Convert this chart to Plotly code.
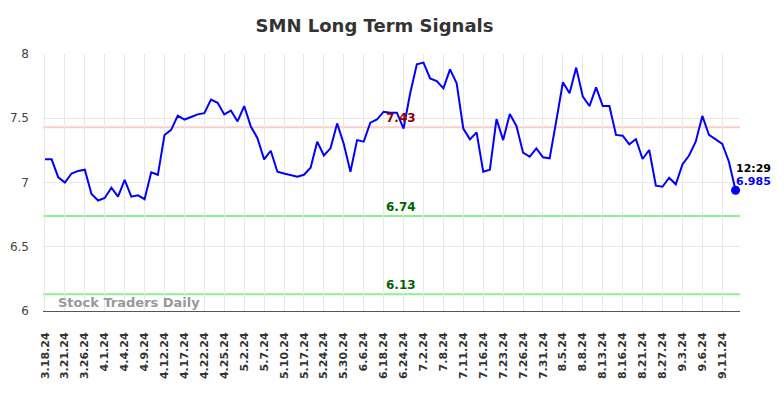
import plotly.graph_objects as go

# ---- data ----
tick_labels = ["3.18.24", "3.21.24", "3.26.24", "4.1.24", "4.4.24", "4.9.24", "4.12.24",
               "4.17.24", "4.22.24", "4.25.24", "5.2.24", "5.7.24", "5.10.24", "5.17.24",
               "5.24.24", "5.30.24", "6.6.24", "6.18.24", "6.24.24", "7.2.24", "7.8.24",
               "7.11.24", "7.16.24", "7.23.24", "7.26.24", "7.31.24", "8.5.24", "8.8.24",
               "8.13.24", "8.16.24", "8.21.24", "8.27.24", "9.3.24", "9.6.24", "9.11.24"]

prices = [7.18, 7.18, 7.04, 7.00, 7.07, 7.09, 7.10, 6.91, 6.86, 6.88,
          6.96, 6.89, 7.02, 6.89, 6.90, 6.87, 7.08, 7.06, 7.37, 7.41,
          7.52, 7.49, 7.51, 7.53, 7.54, 7.645, 7.62, 7.53, 7.56, 7.475,
          7.595, 7.435, 7.345, 7.18, 7.247, 7.084, 7.07, 7.06, 7.045, 7.06,
          7.115, 7.318, 7.21, 7.266, 7.46, 7.30, 7.084, 7.33, 7.318, 7.466,
          7.49, 7.551, 7.543, 7.543, 7.42, 7.694, 7.92, 7.933, 7.81, 7.79,
          7.733, 7.88, 7.772, 7.42, 7.336, 7.39, 7.084, 7.10, 7.494, 7.33,
          7.533, 7.44, 7.232, 7.20, 7.266, 7.196, 7.188, 7.48, 7.78, 7.694,
          7.894, 7.668, 7.595, 7.74, 7.595, 7.595, 7.37, 7.364, 7.297, 7.338,
          7.183, 7.253, 6.975, 6.967, 7.037, 6.986, 7.14, 7.21, 7.318, 7.518,
          7.37, 7.336, 7.30, 7.162, 6.94]

points_per_tick = 3
resistance = 7.43
support_levels = [6.74, 6.13]
last_time = "12:29"
last_label = "6.985"

x_idx = list(range(len(prices)))
tick_vals = [i * points_per_tick for i in range(len(tick_labels))]

W, H = 776, 390  # page body adds an 8px margin

fig = go.Figure()

fig.add_trace(go.Scatter(x=x_idx, y=prices, mode="lines",
                         line=dict(color="#0000FF", width=2), showlegend=False,
                         hoverinfo="skip"))
fig.add_trace(go.Scatter(x=[x_idx[-1]], y=[prices[-1]], mode="markers",
                         marker=dict(color="#0000FF", size=9), showlegend=False,
                         hoverinfo="skip", cliponaxis=False))

fig.add_hline(y=resistance, line=dict(color="#FFCCCC", width=2), layer="below")
for s in support_levels:
    fig.add_hline(y=s, line=dict(color="#90EE90", width=2), layer="below")

label_x = 53.6
fig.add_annotation(x=label_x, y=resistance, text="7.43", showarrow=False,
                   yanchor="bottom", yshift=0,
                   font=dict(family="DejaVu Sans", size=12, color="#8B0000", weight="bold"))
for s in support_levels:
    fig.add_annotation(x=label_x, y=s, text=f"{s:.2f}", showarrow=False,
                       yanchor="bottom", yshift=0,
                       font=dict(family="DejaVu Sans", size=12, color="#006400", weight="bold"))

fig.add_annotation(x=x_idx[-1], y=prices[-1], text=last_time, showarrow=False,
                   xanchor="left", yanchor="middle", xshift=-2, yshift=22,
                   font=dict(family="DejaVu Sans", size=11, color="#000000", weight="bold"))
fig.add_annotation(x=x_idx[-1], y=prices[-1], text=last_label, showarrow=False,
                   xanchor="left", yanchor="middle", xshift=-2, yshift=9,
                   font=dict(family="DejaVu Sans", size=11, color="#0000FF", weight="bold"))

fig.add_annotation(xref="paper", yref="paper", x=0.018, y=0.033, text="Stock Traders Daily",
                   showarrow=False, xanchor="left", yanchor="middle",
                   font=dict(family="DejaVu Sans", size=13, color="#999999", weight="bold"))

fig.update_layout(
    width=W, height=H,
    margin=dict(l=35, r=44, t=46, b=87, autoexpand=False),
    paper_bgcolor="white", plot_bgcolor="white",
    title=dict(text="SMN Long Term Signals", x=366.5 / W, xanchor="center",
               xref="container", y=1 - 18 / H, yanchor="middle", yref="container",
               font=dict(family="DejaVu Sans", size=18, color="#333333", weight="bold")),
    xaxis=dict(range=[-0.3, 104.67], tickmode="array", tickvals=tick_vals,
               ticktext=tick_labels, tickangle=-90, showgrid=True,
               gridcolor="#E8E8E8", gridwidth=1, zeroline=False,
               showline=True, linecolor="#555555", linewidth=1,
               ticks="", ticklabelstandoff=16, automargin=False,
               tickfont=dict(family="DejaVu Sans", size=11, color="#333333", weight="bold")),
    yaxis=dict(range=[6, 8], tickvals=[6, 6.5, 7, 7.5, 8],
               ticktext=["6", "6.5", "7", "7.5", "8"],
               showgrid=True, gridcolor="#E8E8E8", gridwidth=1, zeroline=False,
               showline=False, ticks="", ticklabelstandoff=13, automargin=False,
               tickfont=dict(family="DejaVu Sans", size=12, color="#444444")),
)

fig.write_html("out.html")
